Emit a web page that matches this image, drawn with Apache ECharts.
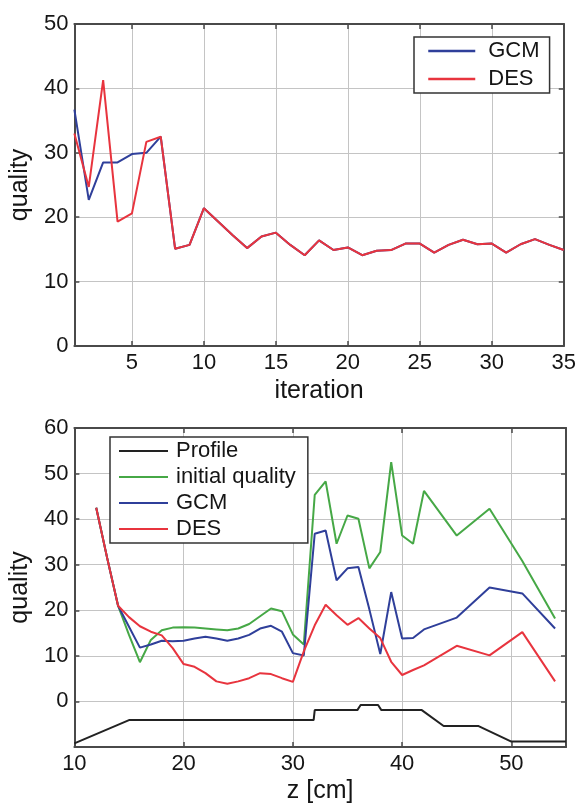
<!DOCTYPE html>
<html><head><meta charset="utf-8">
<script src="https://cdn.jsdelivr.net/npm/echarts@6/dist/echarts.min.js"></script>
<style>html,body{margin:0;padding:0;background:#fff}#c{width:579px;height:807px}</style>
</head><body><div id="c"></div>
<script>
// ---- top chart data ----
const iterations = [1,2,3,4,5,6,7,8,9,10,11,12,13,14,15,16,17,18,19,20,21,22,23,24,25,26,27,28,29,30,31,32,33,34,35];
const gcmIter = [36.7,22.7,28.5,28.5,29.8,30.0,32.5,15.1,15.7,21.4,19.3,17.2,15.2,17.0,17.6,15.7,14.1,16.4,14.9,15.3,14.1,14.8,14.9,15.9,15.9,14.5,15.7,16.5,15.8,15.9,14.5,15.8,16.6,15.7,14.9];
const desIter = [33.0,24.7,41.3,19.3,20.6,31.7,32.5,15.1,15.7,21.4,19.3,17.2,15.2,17.0,17.6,15.7,14.1,16.4,14.9,15.3,14.1,14.8,14.9,15.9,15.9,14.5,15.7,16.5,15.8,15.9,14.5,15.8,16.6,15.7,14.9];
const iterTicks = [5,10,15,20,25,30,35];
const qualityTicksTop = [0,10,20,30,40,50];

// ---- bottom chart data ----
const zValues = [12,13,14,15,16,17,18,19,20,21,22,23,24,25,26,27,28,29,30,31,32,33,34,35,36,37,38,39,40,41,42,45,48,51,54];
const initialQuality = [42.5,31.5,21.0,14.6,8.6,13.5,15.6,16.2,16.3,16.2,16.0,15.8,15.6,16.0,17.0,18.7,20.4,19.8,14.7,12.5,45.3,48.3,34.6,40.8,40.1,29.2,32.8,52.5,36.4,34.6,46.2,36.4,42.3,30.8,18.2];
const gcmZ = [42.5,31.5,21.0,16.4,11.8,12.5,13.3,13.2,13.3,13.8,14.2,13.8,13.3,13.8,14.6,16.0,16.6,15.3,10.6,10.1,36.8,37.5,26.6,29.2,29.5,20.2,10.4,24.0,13.8,13.9,15.8,18.4,25.0,23.7,16.0];
const desZ = [42.5,31.5,21.0,18.5,16.5,15.3,14.5,11.7,8.2,7.6,6.2,4.4,3.9,4.4,5.1,6.2,6.0,5.1,4.3,11.0,16.7,21.2,18.9,16.8,18.3,16.0,13.9,8.7,5.8,6.9,7.9,12.2,10.1,15.2,4.4];
const profileZ = [10,15,31.9,32,35.9,36.2,37.8,38.1,41.8,43.8,47,50,55];
const profileValues = [-9.2,-4.1,-4.1,-1.9,-1.9,-0.8,-0.8,-1.9,-1.9,-5.4,-5.4,-8.8,-8.8];
const zTicks = [10,20,30,40,50];
const qualityTicksBottom = [-10,0,10,20,30,40,50,60];
const qualityLabelsBottom = [0,10,20,30,40,50,60];

const FONT = 'Liberation Sans, Arial, Helvetica, sans-serif';
const TXT = '#151515';
const FRAME = '#4a4a4a';
const GRIDC = '#c4c4c4';
const BLUE = '#2f3f9a', RED = '#e8343e', GREEN = '#46a846', BLACK = '#222';

function pairs(xs, ys) { return xs.map((x, i) => [x, ys[i]]); }

function ticks(vals) {
  return { show: true, inside: true, length: 5, customValues: vals, lineStyle: { color: FRAME, width: 1.5 } };
}
function labels(vals) {
  return { color: TXT, fontSize: 22, fontFamily: FONT, margin: 6, customValues: vals };
}
function mainAxis(opt) {
  return Object.assign({
    type: 'value',
    axisLine: { show: true, onZero: false, lineStyle: { color: FRAME, width: 2 } },
    splitLine: { show: true, lineStyle: { color: GRIDC, width: 1 } },
    nameTextStyle: { color: TXT, fontSize: 25, fontFamily: FONT },
    nameLocation: 'middle'
  }, opt);
}
function frameAxis(opt) {
  return Object.assign({
    type: 'value',
    axisLine: { show: true, onZero: false, lineStyle: { color: FRAME, width: 2 } },
    axisLabel: { show: false },
    splitLine: { show: false }
  }, opt);
}

const chart = echarts.init(document.getElementById('c'), null, { renderer: 'canvas' });
chart.setOption({
  animation: false,
  backgroundColor: '#fff',
  grid: [
    { left: 73, top: 24, width: 494, height: 322 },
    { left: 74, top: 428, width: 492, height: 319 }
  ],
  xAxis: [
    mainAxis({ gridIndex: 0, min: 1, max: 35, name: 'iteration', nameGap: 33, axisTick: ticks(iterTicks), axisLabel: labels(iterTicks) }),
    frameAxis({ gridIndex: 0, min: 1, max: 35, position: 'top', axisTick: ticks(iterTicks) }),
    mainAxis({ gridIndex: 1, min: 10, max: 55, name: 'z [cm]', nameGap: 32, axisTick: ticks(zTicks), axisLabel: labels(zTicks) }),
    frameAxis({ gridIndex: 1, min: 10, max: 55, position: 'top', axisTick: ticks(zTicks) })
  ],
  yAxis: [
    mainAxis({ gridIndex: 0, min: 0, max: 50, name: 'quality', nameGap: 37, axisTick: ticks(qualityTicksTop), axisLabel: labels(qualityTicksTop) }),
    frameAxis({ gridIndex: 0, min: 0, max: 50, position: 'right', axisTick: ticks(qualityTicksTop) }),
    mainAxis({ gridIndex: 1, min: -10, max: 60, name: 'quality', nameGap: 37, axisTick: ticks(qualityTicksBottom), axisLabel: labels(qualityLabelsBottom) }),
    frameAxis({ gridIndex: 1, min: -10, max: 60, position: 'right', axisTick: ticks(qualityTicksBottom) })
  ],
  legend: [
    { orient: 'vertical', left: 414, top: 37, data: ['GCM', 'DES'],
      backgroundColor: '#fff', borderColor: '#333', borderWidth: 1.5, borderRadius: 0,
      padding: [3, 10, 3, 13], itemGap: 6, itemWidth: 47, itemHeight: 14,
      itemStyle: { opacity: 0 }, lineStyle: { width: 2.5 },
      textStyle: { color: TXT, fontSize: 22, fontFamily: FONT, lineHeight: 22, padding: [0, 0, 0, 8] } },
    { orient: 'vertical', left: 110, top: 437, data: ['Profile', 'initial quality', 'GCM', 'DES'],
      backgroundColor: '#fff', borderColor: '#333', borderWidth: 1.5, borderRadius: 0,
      padding: [3, 12, 3, 8], itemGap: 4, itemWidth: 49, itemHeight: 14,
      itemStyle: { opacity: 0 }, lineStyle: { width: 2 },
      textStyle: { color: TXT, fontSize: 22, fontFamily: FONT, lineHeight: 22, padding: [0, 0, 0, 3] } }
  ],
  series: [
    { name: 'GCM', type: 'line', xAxisIndex: 0, yAxisIndex: 0, symbol: 'none', color: BLUE,
      data: pairs(iterations, gcmIter), lineStyle: { color: BLUE, width: 2 } },
    { name: 'DES', type: 'line', xAxisIndex: 0, yAxisIndex: 0, symbol: 'none', color: RED,
      data: pairs(iterations, desIter), lineStyle: { color: RED, width: 2 } },
    { name: 'Profile', type: 'line', xAxisIndex: 2, yAxisIndex: 2, symbol: 'none', color: BLACK,
      data: pairs(profileZ, profileValues), lineStyle: { color: BLACK, width: 2 } },
    { name: 'initial quality', type: 'line', xAxisIndex: 2, yAxisIndex: 2, symbol: 'none', color: GREEN,
      data: pairs(zValues, initialQuality), lineStyle: { color: GREEN, width: 2 } },
    { name: 'GCM', type: 'line', xAxisIndex: 2, yAxisIndex: 2, symbol: 'none', color: BLUE,
      data: pairs(zValues, gcmZ), lineStyle: { color: BLUE, width: 2 } },
    { name: 'DES', type: 'line', xAxisIndex: 2, yAxisIndex: 2, symbol: 'none', color: RED,
      data: pairs(zValues, desZ), lineStyle: { color: RED, width: 2 } }
  ]
});
</script></body></html>
